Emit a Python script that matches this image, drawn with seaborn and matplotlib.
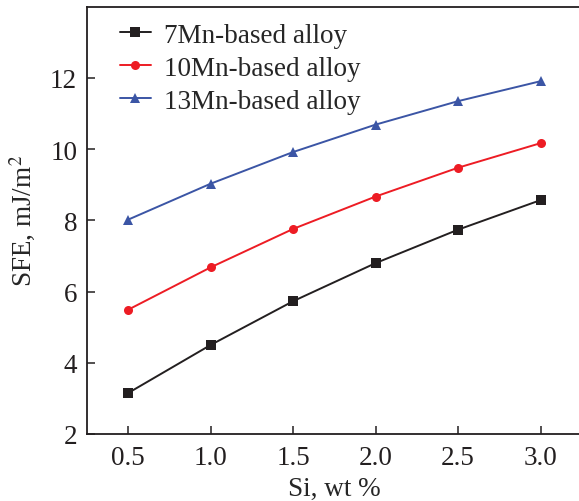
import numpy as np
import pandas as pd
import matplotlib
matplotlib.use("Agg")
import matplotlib.pyplot as plt
import seaborn as sns

si = [0.5, 1.0, 1.5, 2.0, 2.5, 3.0]
sfe_7mn = [3.15, 4.50, 5.73, 6.80, 7.74, 8.57]
sfe_10mn = [5.49, 6.68, 7.76, 8.67, 9.48, 10.17]
sfe_13mn = [8.02, 9.03, 9.92, 10.69, 11.35, 11.91]
alloys = ["7Mn-based alloy", "10Mn-based alloy", "13Mn-based alloy"]

df = pd.DataFrame({
    "si": si * 3,
    "sfe": sfe_7mn + sfe_10mn + sfe_13mn,
    "alloy": [a for a in alloys for _ in si],
})

sns.set_style("ticks")
plt.rcParams["font.family"] = ["Liberation Serif", "DejaVu Serif"]
plt.rcParams["mathtext.fontset"] = "stix"

colors = {alloys[0]: "#231f20", alloys[1]: "#ed1c24", alloys[2]: "#3b55a5"}
marks = {alloys[0]: "s", alloys[1]: "o", alloys[2]: "^"}

fig = plt.figure(figsize=(5.79, 5.02), dpi=100)
ax = fig.add_axes([0.150, 0.1335, 0.855, 0.851])

sns.lineplot(data=df, x="si", y="sfe", hue="alloy", style="alloy",
             palette=colors, markers=marks, dashes=False, markersize=6.5,
             markeredgewidth=0, linewidth=1.4, ax=ax)

ax.set_xlim(0.25, 3.25)
ax.set_ylim(2, 14)
ax.set_xticks(si)
ax.set_xticklabels(["0.5", "1.0", "1.5", "2.0", "2.5", "3.0"])
ax.set_yticks([2, 4, 6, 8, 10, 12])
for s in ax.spines.values():
    s.set_linewidth(1.3)
    s.set_color("#231f20")
ax.tick_params(direction="in", length=6, width=1.1, labelsize=19.5, colors="#231f20")
ax.tick_params(axis="x", pad=8)
ax.tick_params(axis="y", pad=7)
ax.set_xlabel("Si, wt %", fontsize=19.5, labelpad=4)
ax.set_ylabel("SFE, mJ/m$^2$", fontsize=19.5, labelpad=9)

leg = ax.legend(loc="upper left", frameon=False, fontsize=19.5, handlelength=1.15,
                handletextpad=0.5, borderaxespad=0, borderpad=0, labelspacing=0.3,
                bbox_to_anchor=(0.066, 0.963))

fig.savefig("out.png", dpi=100)
